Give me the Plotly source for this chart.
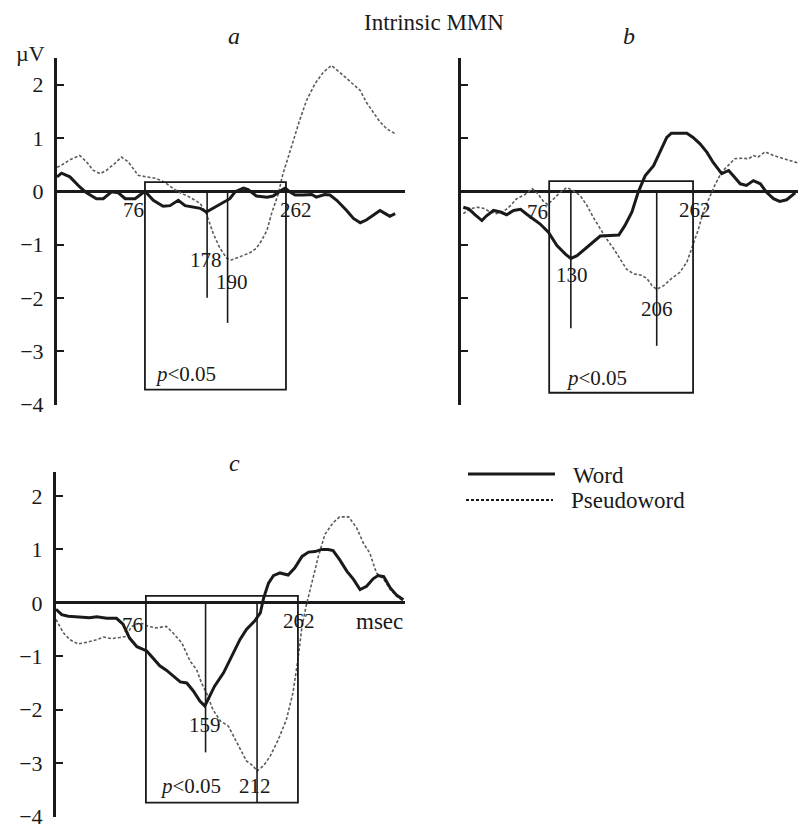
import plotly.graph_objects as go

# ---------------- data (time in ms, amplitude in µV) ----------------
series_names = ["Word", "Pseudoword"]
window_ms = [76, 262]

# panel a
a_word_t = [-40, -34, -23, -10, -1, 12, 21, 32, 41, 50, 63, 76, 87, 100, 109, 120, 129, 140, 149, 157,
            166, 177, 188, 195, 206, 212, 223, 237, 245, 256, 261, 267, 274, 285, 296, 302, 313, 320,
            329, 342, 351, 360, 368, 377, 386, 393, 399, 406]
a_word_v = [0.27, 0.34, 0.27, 0.08, -0.03, -0.14, -0.14, -0.01, -0.03, -0.14, -0.14, 0.0, -0.17, -0.28,
            -0.27, -0.17, -0.27, -0.29, -0.32, -0.39, -0.32, -0.23, -0.14, -0.01, 0.06, 0.03, -0.09,
            -0.11, -0.09, 0.02, 0.06, -0.01, -0.07, -0.07, -0.06, -0.11, -0.06, -0.07, -0.17, -0.36,
            -0.51, -0.59, -0.54, -0.45, -0.36, -0.42, -0.47, -0.42]
a_pseudo_t = [-40, -34, -23, -10, -1, 8, 17, 25, 36, 45, 54, 61, 67, 78, 91, 102, 113, 124, 135, 149,
              157, 166, 175, 184, 190, 201, 215, 223, 230, 237, 243, 252, 258, 265, 272, 280, 289, 300,
              311, 322, 333, 346, 360, 368, 377, 386, 395, 406]
a_pseudo_v = [0.45, 0.49, 0.59, 0.67, 0.55, 0.39, 0.33, 0.39, 0.52, 0.64, 0.55, 0.42, 0.30, 0.27, 0.24,
              0.17, 0.05, -0.04, -0.11, -0.23, -0.42, -0.79, -1.07, -1.26, -1.29, -1.23, -1.15, -1.07,
              -0.92, -0.73, -0.42, -0.04, 0.33, 0.64, 0.98, 1.33, 1.70, 2.01, 2.23, 2.36, 2.23, 2.07,
              1.89, 1.67, 1.48, 1.30, 1.17, 1.08]
a_peak_labels = ["178", "190"]
a_peak_t = [158, 185]

# panel b
b_word_t = [-35, -28, -20, -11, -5, 4, 13, 21, 30, 39, 47, 56, 64, 75, 86, 97, 104, 112, 120, 131, 142,
            155, 166, 174, 183, 191, 200, 211, 219, 228, 234, 243, 254, 262, 271, 280, 288, 299, 308,
            314, 323, 331, 340, 349, 357, 366, 374, 383, 394]
b_word_v = [-0.30, -0.33, -0.44, -0.55, -0.46, -0.36, -0.39, -0.44, -0.36, -0.34, -0.43, -0.52, -0.61,
            -0.77, -1.02, -1.18, -1.26, -1.21, -1.11, -0.96, -0.84, -0.83, -0.82, -0.64, -0.39, -0.02,
            0.29, 0.48, 0.73, 1.01, 1.09, 1.09, 1.09, 1.01, 0.89, 0.73, 0.54, 0.33, 0.39, 0.29, 0.14,
            0.11, 0.20, 0.14, -0.02, -0.14, -0.19, -0.16, -0.03]
b_pseudo_t = [-35, -26, -17, -9, 0, 8, 17, 26, 34, 45, 54, 62, 68, 74, 82, 90, 99, 107, 116, 125, 133,
              142, 150, 159, 168, 176, 185, 194, 202, 209, 215, 224, 234, 245, 254, 262, 269, 275, 282,
              290, 299, 308, 316, 325, 334, 340, 346, 355, 366, 377, 387, 398]
b_pseudo_v = [-0.42, -0.33, -0.30, -0.32, -0.39, -0.42, -0.38, -0.27, -0.14, -0.06, 0.05, -0.06, -0.18,
              -0.25, -0.14, -0.02, 0.07, 0.01, -0.08, -0.27, -0.49, -0.71, -0.89, -1.07, -1.27, -1.46,
              -1.55, -1.57, -1.63, -1.77, -1.84, -1.77, -1.64, -1.52, -1.33, -1.02, -0.71, -0.39, -0.14,
              0.11, 0.36, 0.49, 0.61, 0.62, 0.61, 0.67, 0.64, 0.74, 0.67, 0.62, 0.58, 0.53]
b_peak_labels = ["130", "206"]
b_peak_t = [104, 215]

# panel c
c_word_t = [-34, -27, -19, -5, 7, 16, 28, 40, 48, 56, 65, 77, 85, 93, 101, 109, 118, 126, 134, 142, 148,
            152, 160, 171, 183, 191, 199, 209, 216, 220, 226, 232, 240, 250, 258, 267, 275, 283, 291,
            299, 305, 313, 322, 330, 338, 346, 354, 360, 367, 375, 383, 391]
c_word_v = [-0.12, -0.22, -0.25, -0.26, -0.28, -0.26, -0.29, -0.29, -0.40, -0.66, -0.82, -0.90, -1.03,
            -1.18, -1.26, -1.37, -1.48, -1.50, -1.65, -1.84, -1.93, -1.81, -1.56, -1.31, -0.93, -0.69,
            -0.50, -0.34, -0.19, 0.09, 0.37, 0.51, 0.56, 0.52, 0.65, 0.87, 0.95, 0.96, 1.00, 1.00, 0.98,
            0.81, 0.59, 0.44, 0.25, 0.31, 0.45, 0.51, 0.49, 0.28, 0.14, 0.06]
c_pseudo_t = [-34, -25, -17, -7, 3, 16, 24, 34, 44, 52, 58, 69, 79, 89, 101, 109, 120, 130, 138, 144,
              150, 158, 167, 177, 183, 191, 199, 207, 212, 220, 228, 238, 248, 256, 262, 267, 272, 279,
              287, 295, 305, 313, 324, 334, 342, 350, 358, 367, 375, 383, 391]
c_pseudo_v = [-0.31, -0.56, -0.69, -0.77, -0.74, -0.69, -0.64, -0.67, -0.65, -0.63, -0.45, -0.37, -0.44,
              -0.47, -0.44, -0.56, -0.75, -1.09, -1.25, -1.50, -1.68, -2.00, -2.21, -2.31, -2.49, -2.74,
              -2.96, -3.05, -3.15, -3.05, -2.87, -2.56, -2.18, -1.68, -1.06, -0.44, -0.06, 0.37, 0.87,
              1.28, 1.50, 1.61, 1.61, 1.40, 1.12, 0.93, 0.56, 0.44, 0.25, 0.12, 0.03]
c_peak_labels = ["159", "212"]
c_peak_t = [149, 212]

y_ticks = [-4, -3, -2, -1, 0, 1, 2]

# ---------------- layout helpers ----------------
# the page body has an 8px margin, so the figure is placed at (8, 8) in the window
OFF = 8
W, H = 806 - OFF, 826 - OFF
FONT = "Liberation Serif, Times New Roman, serif"
INK = "#1a1a1a"
GREY = "#5c5c5c"


def fx(p):
    return (p - OFF) / W


def fy(p):
    return 1 - (p - OFF) / H


panels = [
    dict(letter="a", ax="", word=(a_word_t, a_word_v), pseudo=(a_pseudo_t, a_pseudo_v),
         peaks=(a_peak_t, a_peak_labels), xdom=(57, 405), ydom=(405, 58), xr=(-40, 419), yr=(-4.01, 2.5),
         ticklabels=True, box=(-3.72, 0.17), depth=[-2.0, -2.47],
         lab_win=[(61, -0.36), (275, -0.36)], lab_peak=[(156, -1.29), (191, -1.70)],
         lab_p=(130, -3.42), letter_pos=(234, 36), msec=False),
    dict(letter="b", ax="2", word=(b_word_t, b_word_v), pseudo=(b_pseudo_t, b_pseudo_v),
         peaks=(b_peak_t, b_peak_labels), xdom=(461, 806), ydom=(405, 58), xr=(-38, 408), yr=(-4.01, 2.5),
         ticklabels=False, box=(-3.78, 0.19), depth=[-2.57, -2.9],
         lab_win=[(61, -0.38), (265, -0.35)], lab_peak=[(106, -1.58), (216, -2.21)],
         lab_p=(137, -3.5), letter_pos=(629, 36), msec=False),
    dict(letter="c", ax="3", word=(c_word_t, c_word_v), pseudo=(c_pseudo_t, c_pseudo_v),
         peaks=(c_peak_t, c_peak_labels), xdom=(56, 405), ydom=(817, 472), xr=(-34, 393), yr=(-4.01, 2.45),
         ticklabels=True, box=(-3.74, 0.13), depth=[-2.8, -3.74],
         lab_win=[(60, -0.42), (263, -0.34)], lab_peak=[(148, -2.29), (210, -3.43)],
         lab_p=(130, -3.43), letter_pos=(234, 463), msec=True),
]

fig = go.Figure()
shapes = []
annotations = []
layout_axes = {}


def ann(x, y, text, size=21, xref="paper", yref="paper", xanchor="center", yanchor="middle"):
    return dict(x=x, y=y, xref=xref, yref=yref, text=text, showarrow=False,
                xanchor=xanchor, yanchor=yanchor,
                font=dict(family=FONT, size=size, color=INK))


for p in panels:
    xa = "x" + p["ax"]
    ya = "y" + p["ax"]
    # pseudoword (thin grey dotted) then word (thick black)
    fig.add_trace(go.Scatter(x=p["pseudo"][0], y=p["pseudo"][1], mode="lines", name=series_names[1],
                             xaxis=xa, yaxis=ya, showlegend=False,
                             line=dict(color=GREY, width=1.6, dash="3px,2px")))
    fig.add_trace(go.Scatter(x=p["word"][0], y=p["word"][1], mode="lines", name=series_names[0],
                             xaxis=xa, yaxis=ya, showlegend=False,
                             line=dict(color=INK, width=3)))

    key = p["ax"]
    layout_axes["xaxis" + key] = dict(domain=[fx(p["xdom"][0]), fx(p["xdom"][1])], range=list(p["xr"]),
                                      visible=False, anchor=ya, automargin=False, fixedrange=True)
    layout_axes["yaxis" + key] = dict(domain=[fy(p["ydom"][0]), fy(p["ydom"][1])], range=list(p["yr"]),
                                      anchor=xa, tickvals=y_ticks, ticks="inside", ticklen=7, tickwidth=2,
                                      tickcolor=INK, showline=True, linewidth=3, linecolor=INK,
                                      zeroline=True, zerolinewidth=2.5, zerolinecolor=INK,
                                      showgrid=False, showticklabels=p["ticklabels"],
                                      tickfont=dict(family=FONT, size=22, color=INK),
                                      ticklabelstandoff=6, ticklabeloverflow="allow",
                                      automargin=False, fixedrange=True)

    # significance window box
    shapes.append(dict(type="rect", xref=xa, yref=ya, x0=window_ms[0], x1=window_ms[1],
                       y0=p["box"][0], y1=p["box"][1], line=dict(color=INK, width=1.8)))
    # peak latency lines
    for t, d in zip(p["peaks"][0], p["depth"]):
        shapes.append(dict(type="line", xref=xa, yref=ya, x0=t, x1=t, y0=0, y1=d,
                           line=dict(color=INK, width=1.6)))

    for (lx, ly), val in zip(p["lab_win"], window_ms):
        annotations.append(ann(lx, ly, str(val), xref=xa, yref=ya))
    for (lx, ly), lab in zip(p["lab_peak"], p["peaks"][1]):
        annotations.append(ann(lx, ly, lab, xref=xa, yref=ya))
    annotations.append(ann(p["lab_p"][0], p["lab_p"][1], "<i>p</i>&lt;0.05", xref=xa, yref=ya))
    annotations.append(ann(fx(p["letter_pos"][0]), fy(p["letter_pos"][1]), "<i>" + p["letter"] + "</i>",
                           size=24))
    if p["msec"]:
        annotations.append(ann(p["xr"][1], -0.34, "msec", size=23, xref=xa, yref=ya, xanchor="right"))

# title and unit
annotations.append(ann(fx(434), fy(8), "Intrinsic MMN", size=23, yanchor="top"))
annotations.append(ann(fx(30), fy(54), "µV", size=22))

# legend (drawn manually to match the long line samples)
shapes.append(dict(type="line", xref="paper", yref="paper", x0=fx(468), x1=fx(555), y0=fy(474), y1=fy(474),
                   line=dict(color=INK, width=3)))
shapes.append(dict(type="line", xref="paper", yref="paper", x0=fx(466), x1=fx(553), y0=fy(500), y1=fy(500),
                   line=dict(color=INK, width=2.2, dash="3px,2px")))
annotations.append(ann(fx(571), fy(475), series_names[0], size=23, xanchor="left"))
annotations.append(ann(fx(569), fy(500), series_names[1], size=23, xanchor="left"))

fig.update_layout(
    template="none",
    width=W, height=H, autosize=False,
    margin=dict(l=0, r=0, t=0, b=0, pad=0),
    paper_bgcolor="white", plot_bgcolor="white",
    showlegend=False,
    shapes=shapes, annotations=annotations,
    font=dict(family=FONT, color=INK),
    **layout_axes,
)

fig.write_html("out.html")
